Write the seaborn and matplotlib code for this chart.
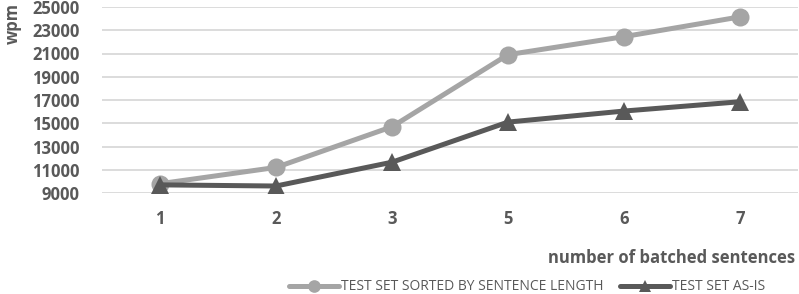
import pandas as pd
import numpy as np
import seaborn as sns
import matplotlib.pyplot as plt

# data
batch = ["1", "2", "3", "5", "6", "7"]
sorted_wpm = [9800, 11200, 14700, 20900, 22450, 24150]
asis_wpm = [9700, 9600, 11650, 15100, 16050, 16850]
series_names = ["TEST SET SORTED BY SENTENCE LENGTH", "TEST SET AS-IS"]
y_ticks = list(range(9000, 25001, 2000))

df = pd.DataFrame({
    "batch": batch * 2,
    "wpm": sorted_wpm + asis_wpm,
    "series": [series_names[0]] * len(batch) + [series_names[1]] * len(batch),
})

sns.set_style("white")
plt.rcParams['font.family'] = ['Open Sans', 'DejaVu Sans']
txt = "#595959"

fig = plt.figure(figsize=(7.99, 2.94), dpi=100)
ax = fig.add_axes([102 / 799, 1 - 193 / 294, 696 / 799, 186 / 294])

sns.lineplot(data=df, x="batch", y="wpm", hue="series", style="series",
             palette={series_names[0]: "#a5a5a5", series_names[1]: "#595959"},
             markers={series_names[0]: "o", series_names[1]: "^"},
             dashes=False, sort=False, linewidth=3.6, markersize=13,
             markeredgewidth=0, ax=ax, legend=True)

ax.set_xlim(-0.5, len(batch) - 0.5)
ax.set_ylim(9000, 25000)
ax.set_yticks(y_ticks)
ax.yaxis.grid(True, color="#d9d9d9", linewidth=1.3)
ax.set_axisbelow(True)
for s in ax.spines.values():
    s.set_visible(False)
ax.tick_params(axis="both", length=0, labelsize=12, labelcolor=txt)
for lab in ax.get_xticklabels() + ax.get_yticklabels():
    lab.set_fontweight("bold")
ax.tick_params(axis="x", pad=12)
ax.tick_params(axis="y", pad=16)

ax.set_xlabel("")
ax.set_ylabel("")
fig.text(0.016, 0.99, "wpm", rotation=90, ha="center", va="top",
         fontsize=12, fontweight="bold", color=txt)
fig.text(0.995, 1 - 258 / 294, "number of batched sentences", ha="right", va="center",
         fontsize=12, fontweight="bold", color=txt)

handles, labels = ax.get_legend_handles_labels()
ax.get_legend().remove()
leg = fig.legend(handles, labels, loc="center", bbox_to_anchor=(0.66, 1 - 287 / 294),
                 ncol=2, frameon=False, fontsize=10, handlelength=3.6,
                 columnspacing=1.2, handletextpad=0.15, markerscale=0.7,
                 borderpad=0.2)
for t in leg.get_texts():
    t.set_color(txt)

fig.savefig("out.png", dpi=100)
